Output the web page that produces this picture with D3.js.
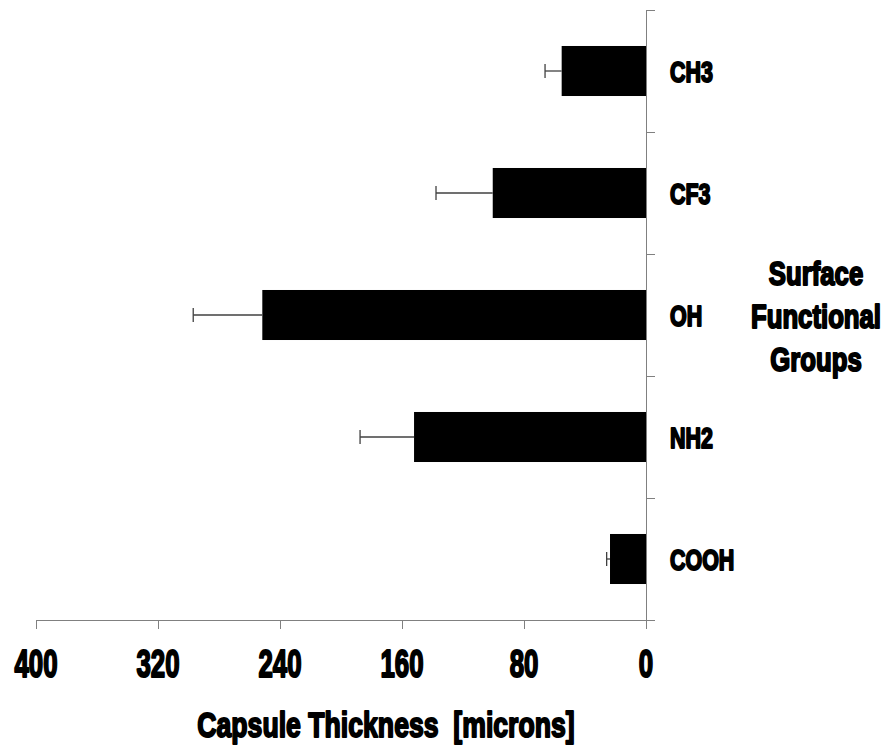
<!DOCTYPE html>
<html>
<head>
    <meta charset="utf-8">
    <script src="https://cdn.jsdelivr.net/npm/d3@7"></script>
    <style type="text/css">
        body {
            margin: 0;
            background: white; }

        .axis path,
        .axis line {
            fill: none;
            stroke: #808080;
            shape-rendering: crispEdges; }

        .heavy {
            font-family: "Liberation Sans", Arial, sans-serif;
            font-weight: bold;
            fill: black;
            stroke: black;
            stroke-width: 2px;
            stroke-linejoin: round; }

        .bar {
            fill: black; }

        .err {
            stroke: #404040;
            stroke-width: 1.3px; }
    </style>
</head>

<body>
    <svg id="chart"></svg>

    <script>
        var groups = ["CH3", "CF3", "OH", "NH2", "COOH"];
        var thickness = [55.3, 100.5, 251.6, 152.1, 23.6];
        var errors = [10.9, 37.2, 45.3, 35.4, 2.2];
        var xTicks = [400, 320, 240, 160, 80, 0];
        var yTitle = ["Surface", "Functional", "Groups"];

        var width = 894, height = 747;
        var plotLeft = 36, plotRight = 646, plotTop = 10, plotBottom = 620;

        var svg = d3.select("#chart")
            .attr("width", width)
            .attr("height", height);

        var x = d3.scaleLinear()
            .domain([400, 0])
            .range([plotLeft, plotRight]);

        var y = d3.scaleBand()
            .domain(groups)
            .range([plotTop, plotBottom]);

        // condensed heavy text, squeezed horizontally
        function heavyText(px, py, str, size, sx, anchor) {
            var g = svg.append("g")
                .attr("transform", "translate(" + px + "," + py + ") scale(" + sx + ",1)");
            return g.append("text")
                .attr("class", "heavy")
                .attr("text-anchor", anchor)
                .style("font-size", size + "px")
                .text(str);
        }

        // bottom axis
        var xAxis = d3.axisBottom(x)
            .tickValues(xTicks)
            .tickSize(9)
            .tickSizeOuter(0)
            .tickFormat("");

        svg.append("g")
            .attr("class", "axis")
            .attr("transform", "translate(0," + plotBottom + ")")
            .call(xAxis);

        xTicks.forEach(function (t) {
            heavyText(x(t), 677, t, 38, 0.68, "middle");
        });

        // vertical axis with tick marks at category boundaries
        var yAxis = svg.append("g").attr("class", "axis");
        yAxis.append("line")
            .attr("x1", x(0)).attr("x2", x(0))
            .attr("y1", plotTop).attr("y2", plotBottom);
        var bounds = groups.map(function (g) { return y(g); }).concat([plotBottom]);
        yAxis.selectAll(".bt")
            .data(bounds)
            .enter().append("line")
            .attr("x1", x(0)).attr("x2", x(0) + 9)
            .attr("y1", function (d) { return d; })
            .attr("y2", function (d) { return d; });

        // bars
        var barH = y.bandwidth() * 0.41;
        svg.selectAll(".bar")
            .data(groups)
            .enter().append("rect")
            .attr("class", "bar")
            .attr("x", function (d, i) { return x(thickness[i]); })
            .attr("y", function (d) { return y(d) + (y.bandwidth() - barH) / 2; })
            .attr("width", function (d, i) { return x(0) - x(thickness[i]); })
            .attr("height", barH);

        // error bars
        groups.forEach(function (g, i) {
            var cy = y(g) + y.bandwidth() / 2;
            var x1 = x(thickness[i]), x2 = x(thickness[i] + errors[i]);
            svg.append("line").attr("class", "err")
                .attr("x1", x1).attr("x2", x2).attr("y1", cy).attr("y2", cy);
            svg.append("line").attr("class", "err")
                .attr("x1", x2).attr("x2", x2).attr("y1", cy - 7).attr("y2", cy + 7);
        });

        // category labels
        groups.forEach(function (g) {
            heavyText(670, y(g) + y.bandwidth() / 2 + 10.5, g, 29, 0.74, "start");
        });

        // axis titles
        heavyText(386, 737, "Capsule Thickness  [microns]", 36, 0.74, "middle")
            .style("white-space", "pre");

        yTitle.forEach(function (t, i) {
            heavyText(816, 285 + i * 43, t, 33, 0.78, "middle");
        });
    </script>
</body>
</html>
